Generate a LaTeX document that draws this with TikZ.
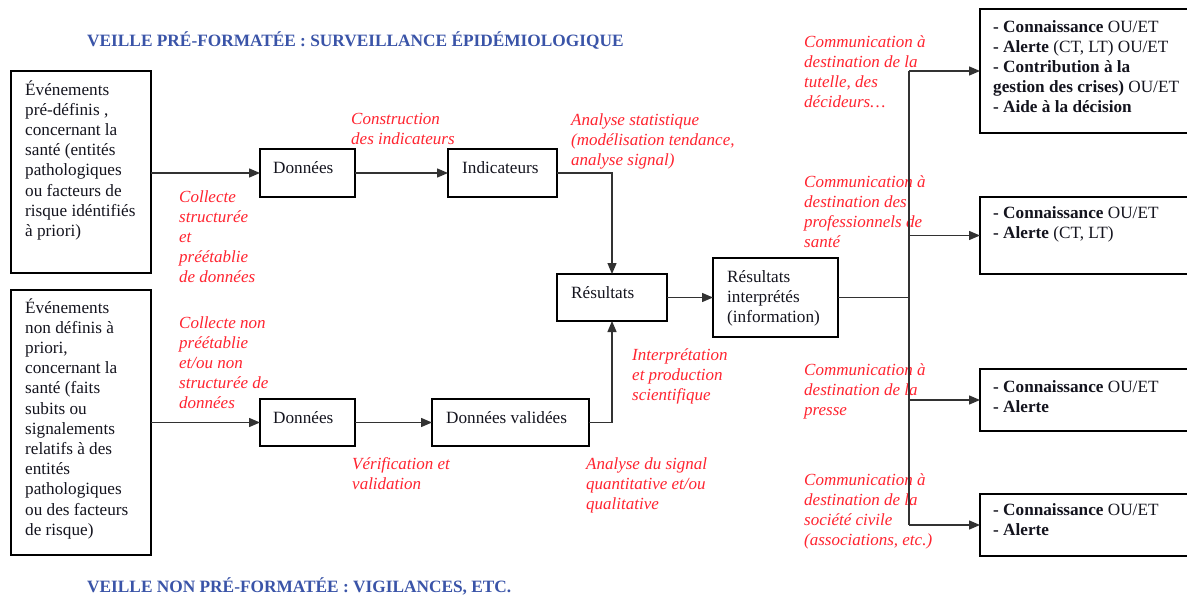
\documentclass[tikz,border=0pt]{standalone}
\usepackage{fontspec}
\setmainfont{Liberation Serif}
\usetikzlibrary{arrows.meta}
\definecolor{tblue}{RGB}{58,84,168}
\definecolor{lred}{RGB}{255,36,48}
\definecolor{ink}{RGB}{20,20,30}
\definecolor{wire}{RGB}{50,50,50}
\newcommand{\ml}[1]{\begin{tabular}[t]{@{}l@{}}#1\end{tabular}}
\tikzset{
 box/.style={draw=black, line width=1.8pt, inner sep=0pt, outer sep=0pt, anchor=north west},
 btext/.style={anchor=base west, inner sep=0pt, text=ink, font=\fontsize{17.2}{20.2}\selectfont},
 lab/.style={anchor=base west, inner sep=0pt, text=lred, font=\fontsize{17}{20}\selectfont\itshape},
 ttl/.style={anchor=base west, inner sep=0pt, text=tblue, font=\fontsize{17.3}{20}\selectfont\bfseries},
 wireline/.style={draw=wire, line width=1.3pt},
 arr/.style={wireline, -{Triangle[length=11pt,width=9pt]}},
}
\begin{document}
\begin{tikzpicture}[x=1pt,y=-1pt]
\clip (0,0) rectangle (1187,597);
\fill[white] (0,0) rectangle (1187,597);

% titles
\node[ttl] (t1) at (87,46) {VEILLE PRÉ-FORMATÉE : SURVEILLANCE ÉPIDÉMIOLOGIQUE};
\node[ttl] (t2) at (87,592) {VEILLE NON PRÉ-FORMATÉE : VIGILANCES, ETC.};

% boxes
\node[box, minimum width=140pt, minimum height=202pt] (left1) at (11,71) {};
\node[box, minimum width=140pt, minimum height=265pt] (left2) at (11,290) {};
\node[box, minimum width=95pt, minimum height=48pt] (d1) at (260,149) {};
\node[box, minimum width=109pt, minimum height=48pt] (ind) at (448,149) {};
\node[box, minimum width=110pt, minimum height=47pt] (res) at (557,274) {};
\node[box, minimum width=125pt, minimum height=79pt] (ri) at (713,258) {};
\node[box, minimum width=95pt, minimum height=47pt] (d2) at (260,399) {};
\node[box, minimum width=157pt, minimum height=47pt] (dv) at (432,399) {};
\node[box, minimum width=230pt, minimum height=124pt] (r1) at (980,9) {};
\node[box, minimum width=230pt, minimum height=77pt] (r2) at (980,197) {};
\node[box, minimum width=230pt, minimum height=62pt] (r3) at (980,369) {};
\node[box, minimum width=230pt, minimum height=62pt] (r4) at (980,494) {};

% box texts
\node[btext] (left1t) at (25,95) {\ml{Événements\\pré-définis ,\\concernant la\\santé (entités\\pathologiques\\ou facteurs de\\risque idéntifiés\\à priori)}};
\node[btext] (left2t) at (25,313) {\ml{Événements\\non définis à\\priori,\\concernant la\\santé (faits\\subits ou\\signalements\\relatifs à des\\entités\\pathologiques\\ou des facteurs\\de risque)}};
\node[btext] (d1t) at (273,173) {Données};
\node[btext] (indt) at (462,173) {Indicateurs};
\node[btext] (rest) at (571,298) {Résultats};
\node[btext] (rit) at (727,282) {\ml{Résultats\\interprétés\\(information)}};
\node[btext] (d2t) at (273,423) {Données};
\node[btext] (dvt) at (446,423) {Données validées};
\node[btext] (r1t) at (993,32) {\ml{\textbf{- Connaissance} OU/ET\\\textbf{- Alerte} (CT, LT) OU/ET\\\textbf{- Contribution à la}\\\textbf{gestion des crises)} OU/ET\\\textbf{- Aide à la décision}}};
\node[btext] (r2t) at (993,218) {\ml{\textbf{- Connaissance} OU/ET\\\textbf{- Alerte} (CT, LT)}};
\node[btext] (r3t) at (993,392) {\ml{\textbf{- Connaissance} OU/ET\\\textbf{- Alerte}}};
\node[btext] (r4t) at (993,515) {\ml{\textbf{- Connaissance} OU/ET\\\textbf{- Alerte}}};

% red labels
\node[lab] (l1) at (179,202) {\ml{Collecte\\structurée\\et\\préétablie\\de données}};
\node[lab] (l2) at (179,328) {\ml{Collecte non\\préétablie\\et/ou non\\structurée de\\données}};
\node[lab] (l3) at (351,124) {\ml{Construction\\des indicateurs}};
\node[lab] (l4) at (571,125) {\ml{Analyse statistique\\(modélisation tendance,\\analyse signal)}};
\node[lab] (l5) at (632,360) {\ml{Interprétation\\et production\\scientifique}};
\node[lab] (l6) at (352,469) {\ml{Vérification et\\validation}};
\node[lab] (l7) at (586,469) {\ml{Analyse du signal\\quantitative et/ou\\qualitative}};
\node[lab] (c1) at (804,47) {\ml{Communication à\\destination de la\\tutelle, des\\décideurs…}};
\node[lab] (c2) at (804,187) {\ml{Communication à\\destination des\\professionnels de\\santé}};
\node[lab] (c3) at (804,375) {\ml{Communication à\\destination de la\\presse}};
\node[lab] (c4) at (804,485) {\ml{Communication à\\destination de la\\société civile\\(associations, etc.)}};

% connectors
\draw[arr] (left1.east |- d1.west) -- (d1.west);
\draw[arr] (d1) -- (ind);
\draw[arr] (ind.east) -| (res.north);
\draw[arr] (left2.east |- d2.west) -- (d2.west);
\draw[arr] (d2) -- (dv);
\draw[arr] (dv.east) -| (res.south);
\draw[arr] (res) -- (ri);
\coordinate (tk) at (909,297.5);
\draw[wireline] (ri.east) -- (tk);
\draw[wireline] (tk |- r1.west) -- (tk |- r4.west);
\foreach \r in {r1,r2,r3,r4} {\draw[arr] (tk |- \r.west) -- (\r.west);}
\end{tikzpicture}
\end{document}
